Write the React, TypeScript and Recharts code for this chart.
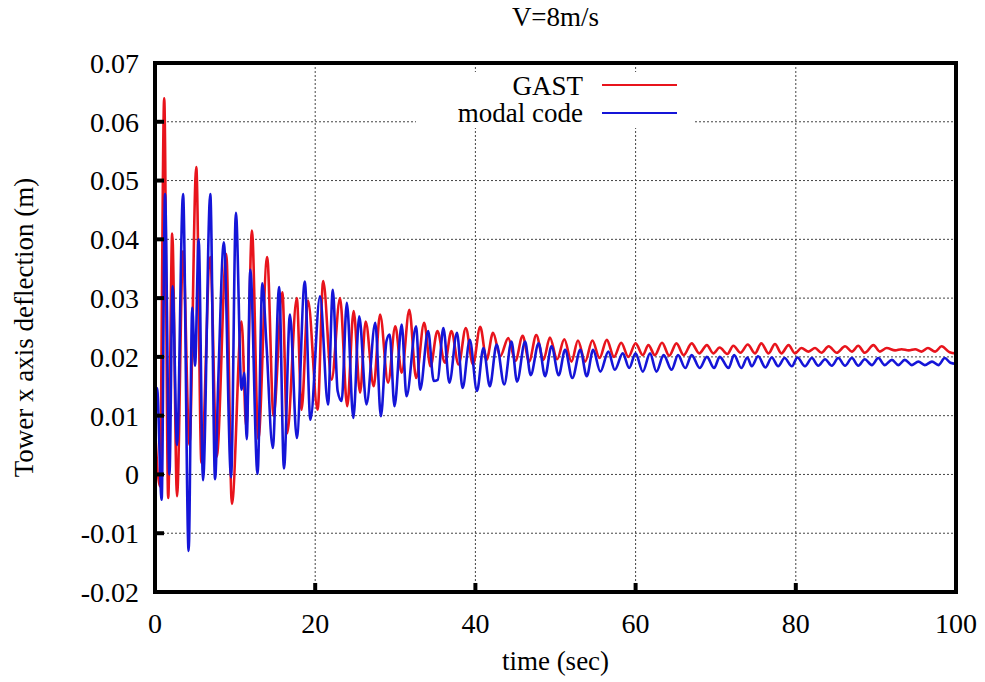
import React from 'react';
import { LineChart, Line, XAxis, YAxis, CartesianGrid, Legend } from 'recharts';

const FONT = "'Liberation Serif', 'DejaVu Serif', 'Times New Roman', Times, serif";

// Time (s) of each read-off turning point, and the deflection (m) there.
const gastTime = [
  0, 0.6, 1.15, 1.65, 2.15, 2.75, 3.5, 4.3, 5.15, 5.8, 6.9, 7.7, 8.9, 9.6, 10.8, 11.4, 12.1, 12.9,
  14.0, 14.8, 15.9, 16.5, 17.7, 18.3, 19.1, 20.3, 21.0, 22.05, 23.1, 24.0, 24.8, 25.6, 26.3, 27.3,
  28.1, 29.1, 30.0, 30.8, 31.75, 32.6, 33.6, 34.4, 35.25, 36.2, 37.0, 37.9, 38.8, 39.7, 40.6, 41.4,
  42.2, 43.1, 44.1, 45.0, 45.9, 46.7, 47.6, 48.5, 49.3, 50.2, 51.1, 52.0, 52.8, 53.7, 54.6, 55.5,
  56.4, 57.3, 58.2, 59.1, 60.0, 60.9, 61.6, 62.4, 63.3, 64.2, 65.1, 66.0, 67.0, 67.95, 68.9, 69.7,
  70.5, 71.45, 72.2, 73.1, 74.0, 74.9, 75.7, 76.6, 77.4, 78.2, 79.1, 79.9, 80.7, 81.6, 82.4, 83.2,
  84.1, 85.1, 86.15, 87.0, 87.8, 88.6, 89.7, 90.5, 91.35, 92.4, 93.2, 94.1, 94.9, 95.7, 96.5, 97.4,
  98.2, 99.2, 100,
];
const gastDeflection = [
  0.008, -0.002, 0.064, -0.004, 0.041, -0.0037, 0.038, 0.005, 0.0523, 0.002, 0.037, 0.003, 0.0375, -0.005, 0.026, 0.008, 0.0415, 0.006,
  0.037, 0.01, 0.031, 0.007, 0.03, 0.011, 0.0296, 0.011, 0.0329, 0.0161, 0.03, 0.0116, 0.0278, 0.0139, 0.026, 0.015,
  0.0272, 0.0156, 0.0252, 0.0173, 0.028, 0.0164, 0.0258, 0.0184, 0.0244, 0.019, 0.0244, 0.0187, 0.0249, 0.0187, 0.0251, 0.0195,
  0.0241, 0.0201, 0.0232, 0.0193, 0.0236, 0.0192, 0.0237, 0.0195, 0.0233, 0.0196, 0.023, 0.0192, 0.0228, 0.0192, 0.0228, 0.0198,
  0.0229, 0.02, 0.0224, 0.02, 0.0223, 0.0203, 0.022, 0.0203, 0.0224, 0.0202, 0.0223, 0.0203, 0.0223, 0.0206, 0.022, 0.0206,
  0.0216, 0.0205, 0.0219, 0.0207, 0.0221, 0.0206, 0.0223, 0.0206, 0.0222, 0.0206, 0.022, 0.0206, 0.0215, 0.0209, 0.0215, 0.0207,
  0.0218, 0.0207, 0.0218, 0.0209, 0.0219, 0.0207, 0.022, 0.0209, 0.0215, 0.0211, 0.0213, 0.0211, 0.0213, 0.0209, 0.0215, 0.0209,
  0.0218, 0.0208, 0.0206,
];

const modalTime = [
  0, 0.25, 0.83, 1.25, 1.8, 2.2, 2.75, 3.5, 4.2, 4.65, 5.0, 5.45, 6.0, 6.9, 7.5, 7.9, 8.6, 9.5, 10.1, 10.8,
  11.15, 11.45, 11.9, 12.8, 13.4, 13.9, 14.7, 15.5, 16.1, 16.85, 17.7, 18.7, 19.4, 20.6, 21.6, 22.2, 22.8, 23.3,
  23.95, 24.76, 25.5, 26.4, 27.5, 28.2, 28.9, 29.3, 29.9, 30.8, 31.4, 32.6, 33.1, 34.1, 34.8, 35.3, 36.0, 36.75,
  37.7, 38.4, 39.3, 40.2, 41.0, 41.8, 42.65, 43.6, 44.5, 45.2, 46.2, 46.9, 47.9, 48.7, 49.5, 50.4, 51.2, 52.1,
  53.1, 53.9, 54.7, 55.6, 56.6, 57.4, 58.4, 59.2, 60.0, 60.9, 61.8, 62.6, 63.5, 64.5, 65.3, 66.2, 67.0, 68.0,
  68.9, 69.8, 70.5, 71.6, 72.3, 73.2, 73.95, 74.5, 75.3, 76.2, 77.0, 77.8, 78.6, 79.5, 80.2, 81.15, 82.0, 82.8,
  83.65, 84.5, 85.3, 86.15, 87.0, 87.8, 88.6, 89.5, 90.3, 91.1, 92.0, 92.8, 93.6, 94.5, 95.3, 96.1, 97.0, 97.8,
  98.6, 99.3, 100,
];
const modalDeflection = [
  0.011, 0.0147, -0.0043, 0.0477, 0.0, 0.032, 0.005, 0.0477, -0.013, 0.0284, 0.0185, 0.04, -0.001, 0.0477, -0.0008, 0.016, 0.0395, -0.0005, 0.0445, 0.0144,
  0.0173, 0.006, 0.0348, 0.0001, 0.0325, 0.0225, 0.0045, 0.0319, 0.001, 0.0272, 0.0062, 0.0328, 0.0093, 0.0303, 0.0119, 0.0314, 0.0142, 0.0125,
  0.0292, 0.0096, 0.0269, 0.0119, 0.0258, 0.0099, 0.0227, 0.0238, 0.0116, 0.0255, 0.0133, 0.0252, 0.0144, 0.0244, 0.0159, 0.0161, 0.0249, 0.0156,
  0.0241, 0.0147, 0.0229, 0.0142, 0.0215, 0.015, 0.0221, 0.0153, 0.0226, 0.0158, 0.0226, 0.0169, 0.0223, 0.0167, 0.0218, 0.0169, 0.0212, 0.0164,
  0.0212, 0.0167, 0.0212, 0.0175, 0.0209, 0.0178, 0.0206, 0.0181, 0.0206, 0.0175, 0.0206, 0.0175, 0.0203, 0.0178, 0.0203, 0.0181, 0.0203, 0.0181,
  0.02, 0.0181, 0.02, 0.0181, 0.0203, 0.0181, 0.0199, 0.0184, 0.0201, 0.0182, 0.0199, 0.0184, 0.0198, 0.0184, 0.0199, 0.0184, 0.0198, 0.0185,
  0.0196, 0.0185, 0.0198, 0.0185, 0.0198, 0.0185, 0.0196, 0.0186, 0.0198, 0.0186, 0.0195, 0.0186, 0.0195, 0.0186, 0.0192, 0.0186, 0.0192, 0.0186,
  0.0198, 0.019, 0.0188,
];

const timeTicks = [0, 20, 40, 60, 80, 100];
const deflectionTicks = [-0.02, -0.01, 0, 0.01, 0.02, 0.03, 0.04, 0.05, 0.06, 0.07];

const toRows = (ts: number[], vs: number[]) => ts.map((t, i) => ({ t, v: vs[i] }));
const gastRows = toRows(gastTime, gastDeflection);
const modalRows = toRows(modalTime, modalDeflection);

const fmtY = (v: number) => (Math.abs(v) < 1e-9 ? '0' : v.toFixed(2));

const tickStyle = { fill: '#000', fontSize: 28, style: { fontFamily: FONT } };
const frame = { stroke: '#000', strokeWidth: 4, strokeLinecap: 'square' as const };
const tickLn = { stroke: '#000', strokeWidth: 4 };

function LegendBox(props: any) {
  const items = props.payload || [];
  return (
    <div style={{ position: 'relative', width: 278, height: 56, background: '#fff', fontFamily: FONT, fontSize: 27 }}>
      {items.map((it: any, i: number) => (
        <React.Fragment key={i}>
          <div style={{ position: 'absolute', right: 111, top: i * 27.5 + 0.5, lineHeight: '27px', whiteSpace: 'nowrap', color: '#000' }}>
            {it.value}
          </div>
          <div style={{ position: 'absolute', left: 186, width: 75, top: 12 + i * 27.5, height: 2, background: it.color }} />
        </React.Fragment>
      ))}
    </div>
  );
}

export default function App() {
  return (
    <div style={{ position: 'absolute', left: 0, top: 0, width: 985, height: 682, background: '#fff', fontFamily: FONT }}>
      <LineChart width={985} height={682} margin={{ top: 53, right: 19, bottom: 50, left: 95 }} style={{ fontFamily: FONT }}>
        <CartesianGrid xAxisId="b" yAxisId="l" stroke="#444" strokeDasharray="2 2" strokeWidth={1} />
        <XAxis
          xAxisId="b" orientation="bottom" type="number" dataKey="t" domain={[0, 100]} ticks={timeTicks}
          allowDataOverflow interval={0} height={40} stroke="#000" axisLine={frame} tickLine={tickLn}
          tickSize={-9} tickMargin={30} tick={tickStyle}
        />
        <XAxis
          xAxisId="t" orientation="top" type="number" dataKey="t" domain={[0, 100]} ticks={timeTicks}
          allowDataOverflow interval={0} height={10} stroke="#000" axisLine={frame} tickLine={tickLn}
          tickSize={-9} tick={false}
        />
        <YAxis
          yAxisId="l" orientation="left" type="number" domain={[-0.02, 0.07]} ticks={deflectionTicks}
          allowDataOverflow interval={0} width={60} stroke="#000" axisLine={frame} tickLine={tickLn}
          tickSize={-9} tickMargin={25} tick={tickStyle} tickFormatter={fmtY}
        />
        <YAxis
          yAxisId="r" orientation="right" type="number" domain={[-0.02, 0.07]} ticks={deflectionTicks}
          allowDataOverflow interval={0} width={10} stroke="#000" axisLine={frame} tickLine={tickLn}
          tickSize={-9} tick={false}
        />
        <Legend
          layout="vertical" align="center" verticalAlign="middle" content={LegendBox}
          wrapperStyle={{ left: 416, top: 72, width: 278, height: 56 }}
        />
        <Line
          name="GAST" data={gastRows} dataKey="v" xAxisId="b" yAxisId="l" type="monotone"
          stroke="#e8141c" strokeWidth={2.6} dot={false} activeDot={false} isAnimationActive={false}
        />
        <Line
          name="modal code" data={modalRows} dataKey="v" xAxisId="t" yAxisId="r" type="monotone"
          stroke="#1515d8" strokeWidth={2.6} dot={false} activeDot={false} isAnimationActive={false}
        />
      </LineChart>
      <div style={{ position: 'absolute', left: 155, width: 801, top: 4, textAlign: 'center', fontSize: 27, lineHeight: '27px', color: '#000' }}>
        V=8m/s
      </div>
      <div style={{ position: 'absolute', left: 155, width: 801, top: 648, textAlign: 'center', fontSize: 27, lineHeight: '27px', color: '#000' }}>
        time (sec)
      </div>
      <div
        style={{
          position: 'absolute', left: 24 - 200, top: 327 - 13.5, width: 400, textAlign: 'center', fontSize: 27,
          lineHeight: '27px', color: '#000', transform: 'rotate(-90deg)', whiteSpace: 'nowrap',
        }}
      >
        Tower x axis deflection (m)
      </div>
    </div>
  );
}
